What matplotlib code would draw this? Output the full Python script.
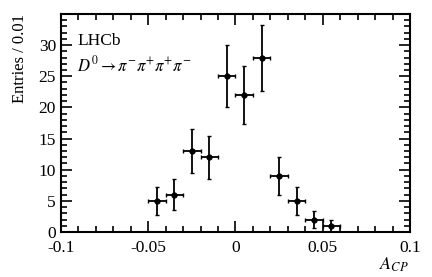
import numpy as np
import matplotlib
matplotlib.use("Agg")
import matplotlib.pyplot as plt
from matplotlib.ticker import MultipleLocator

plt.rcParams['font.family'] = ['Liberation Serif', 'DejaVu Serif']
plt.rcParams['mathtext.fontset'] = 'stix'

# binned A_CP distribution
bin_centers = [-0.045, -0.035, -0.025, -0.015, -0.005, 0.005, 0.015, 0.025, 0.035, 0.045, 0.055]
entries = [5, 6, 13, 12, 25, 22, 28, 9, 5, 2, 1]
bin_halfwidth = 0.005

errs = np.sqrt(entries)

fig = plt.figure(figsize=(4.32, 2.77), dpi=100)
ax = fig.add_axes([0.141, 0.1625, 0.808, 0.787])

ax.errorbar(bin_centers, entries, yerr=errs, xerr=bin_halfwidth, fmt='o', color='black',
            ms=3.5, elinewidth=1.3, capsize=1.5, capthick=1.0)

ax.set_xlim(-0.1, 0.1)
ax.set_ylim(0, 34.99)
ax.xaxis.set_minor_locator(MultipleLocator(0.01))
ax.yaxis.set_major_locator(MultipleLocator(5))
ax.yaxis.set_minor_locator(MultipleLocator(1))
ax.set_xticks([-0.1, -0.05, 0, 0.05, 0.1])
ax.set_xticklabels(['-0.1', '-0.05', '0', '0.05', '0.1'])
ax.tick_params(which='both', direction='in', top=True, right=True, labelsize=12.5, width=1.2)
ax.tick_params(which='major', length=8)
ax.tick_params(which='minor', length=4)
ax.tick_params(axis='x', pad=6)
for s in ax.spines.values():
    s.set_linewidth(1.5)

ax.set_ylabel('Entries / 0.01', fontsize=12, loc='top', labelpad=8)
# x label sits under the right end of the axis, ROOT style
fig.text(0.947, 0.045, '$A_{CP}$', fontsize=13, ha='right', va='center')

ax.text(0.046, 0.876, 'LHCb', transform=ax.transAxes, fontsize=12.5, va='center')
ax.text(0.046, 0.766, r'$D^0 \rightarrow \pi^{-}\pi^{+}\pi^{+}\pi^{-}$', transform=ax.transAxes,
        fontsize=12, va='center')

fig.savefig('out.png', dpi=100)
